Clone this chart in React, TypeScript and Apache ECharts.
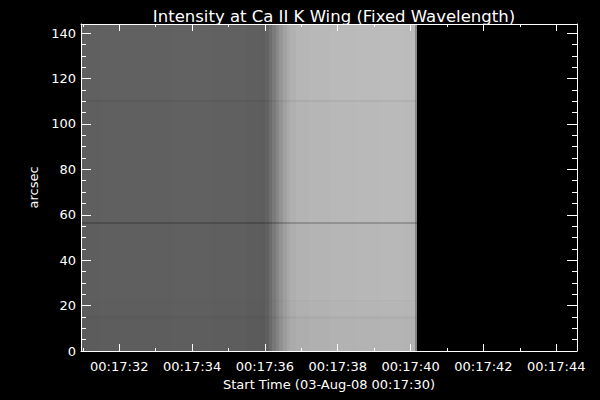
import React, { useEffect, useRef } from 'react';
import * as echarts from 'echarts';

const titleText = 'Intensity at Ca II K Wing (Fixed Wavelength)';
const xName = 'Start Time (03-Aug-08 00:17:30)';
const yName = 'arcsec';
const timePrefix = '00:17:';

// axis ranges (x in seconds after 00:17:30)
const xMin = 30.95;
const xMax = 44.57;
const yMin = 0;
const yMax = 144;
const xMajor = [32, 34, 36, 38, 40, 42, 44];
const xMinor = [31, 33, 35, 37, 39, 41, 43];
const yMajor = [0, 20, 40, 60, 80, 100, 120, 140];
const yMinor = [5, 10, 15, 25, 30, 35, 45, 50, 55, 65, 70, 75, 85, 90, 95, 105, 110, 115, 125, 130, 135];

// image columns: edges in time (s) and gray level of each column
const colEdges = [30.95, 31.5, 32.5, 33.5, 34.5, 35.5, 35.9, 36.0, 36.1, 36.2, 36.3, 36.4, 36.5, 36.6, 36.7, 36.85, 37.2, 37.8, 38.5, 39.2, 39.8, 40.12, 40.17];
const colGray = [94, 95, 95, 96, 95, 93, 92, 97, 108, 121, 134, 147, 159, 168, 174, 178, 180, 182, 183, 184, 183, 135];
// image rows: edges in arcsec and brightness factor of each row band
const rowEdges = [0, 14.2, 15.2, 21.8, 22.6, 55.8, 56.7, 109.8, 110.6, 144];
const rowFactor = [0.98, 0.95, 0.99, 0.97, 1.0, 0.8, 1.01, 0.96, 1.02];

const font = 'DejaVu Sans';

export default function App() {
  const ref = useRef<HTMLDivElement>(null);
  useEffect(() => {
    if (!ref.current) return;
    const chart = echarts.init(ref.current, undefined, { renderer: 'svg' });
    const cells: number[][] = [];
    for (let c = 0; c < colGray.length; c++) {
      for (let r = 0; r < rowFactor.length; r++) {
        const g = Math.min(255, Math.round(colGray[c] * rowFactor[r]));
        cells.push([colEdges[c], colEdges[c + 1], rowEdges[r], rowEdges[r + 1], g]);
      }
    }
    const white = '#ffffff';
    const baseX = (pos: string, major: boolean, labels: boolean) => ({
      type: 'value',
      position: pos,
      min: xMin,
      max: xMax,
      z: 10,
      axisLine: { show: major, onZero: false, lineStyle: { color: white, width: 1 } },
      axisTick: {
        show: true,
        inside: true,
        length: major ? 7 : 3,
        customValues: major ? xMajor : xMinor,
        lineStyle: { color: white, width: 1 },
      },
      axisLabel: {
        show: labels,
        customValues: xMajor,
        color: white,
        fontFamily: font,
        fontSize: 13,
        margin: 9,
        formatter: (v: number) => timePrefix + String(Math.round(v)).padStart(2, '0'),
      },
      splitLine: { show: false },
    });
    const baseY = (pos: string, major: boolean, labels: boolean) => ({
      type: 'value',
      position: pos,
      min: yMin,
      max: yMax,
      z: 10,
      axisLine: { show: major, onZero: false, lineStyle: { color: white, width: 1 } },
      axisTick: {
        show: true,
        inside: true,
        length: major ? 10 : 5,
        customValues: major ? yMajor : yMinor,
        lineStyle: { color: white, width: 1 },
      },
      axisLabel: {
        show: labels,
        customValues: yMajor,
        color: white,
        fontFamily: font,
        fontSize: 13,
        margin: 5,
      },
      splitLine: { show: false },
    });
    const x0: any = baseX('bottom', true, true);
    x0.name = xName;
    x0.nameLocation = 'middle';
    x0.nameGap = 22;
    x0.nameTextStyle = { color: white, fontFamily: font, fontSize: 13 };
    const y0: any = baseY('left', true, true);
    y0.name = yName;
    y0.nameLocation = 'middle';
    y0.nameGap = 38;
    y0.nameTextStyle = { color: white, fontFamily: font, fontSize: 13 };

    chart.setOption({
      animation: false,
      backgroundColor: '#000000',
      title: {
        text: titleText,
        left: 329,
        textAlign: 'center',
        top: 3,
        textStyle: { color: white, fontFamily: font, fontSize: 16.5, fontWeight: 'normal' },
      },
      grid: { left: 81, right: 23, top: 24, bottom: 49, containLabel: false },
      xAxis: [x0, baseX('bottom', false, false), baseX('top', true, false), baseX('top', false, false)],
      yAxis: [y0, baseY('left', false, false), baseY('right', true, false), baseY('right', false, false)],
      series: [
        {
          type: 'custom',
          xAxisIndex: 0,
          yAxisIndex: 0,
          z: 1,
          encode: { x: [0, 1], y: [2, 3] },
          renderItem: (params: any, api: any) => {
            const a = api.coord([api.value(0), api.value(3)]);
            const b = api.coord([api.value(1), api.value(2)]);
            const g = api.value(4);
            const x = Math.round(a[0]);
            const y = Math.round(a[1]);
            return {
              type: 'rect',
              shape: { x, y, width: Math.round(b[0]) - x, height: Math.round(b[1]) - y },
              style: { fill: `rgb(${g},${g},${g})` },
            };
          },
          data: cells,
        },
      ],
    });
    return () => chart.dispose();
  }, []);
  return (
    <div
      ref={ref}
      style={{ position: 'fixed', left: 0, top: 0, width: 600, height: 400, background: '#000' }}
    />
  );
}
